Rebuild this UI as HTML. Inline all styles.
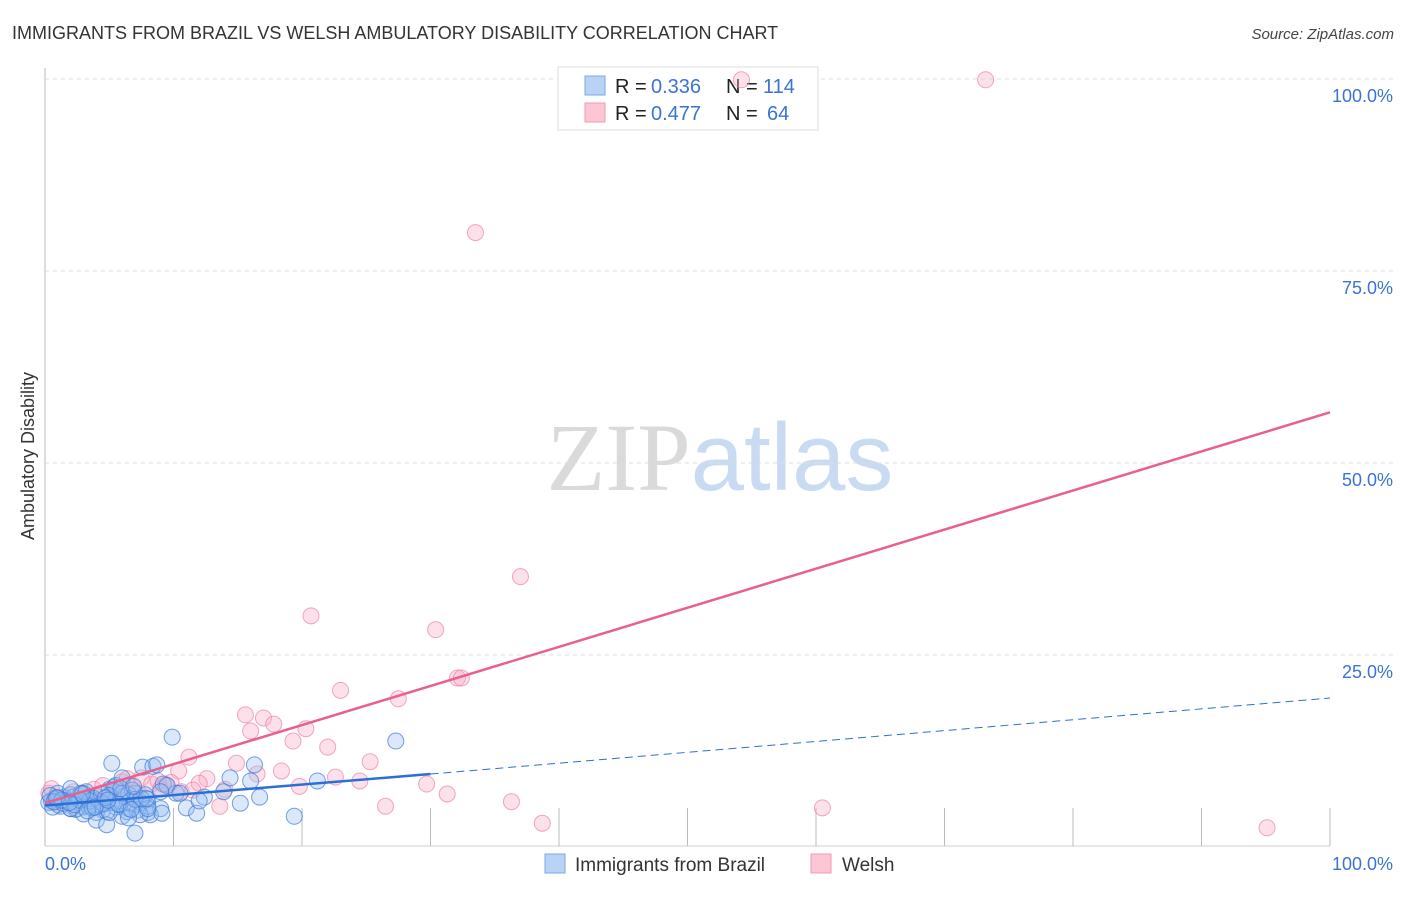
<!DOCTYPE html>
<html><head><meta charset="utf-8">
<style>
body{margin:0;background:#fff;font-family:"Liberation Sans",sans-serif;}
svg text{font-family:"Liberation Sans",sans-serif;}
</style></head>
<body>
<svg id="chart" width="1406" height="892" xmlns="http://www.w3.org/2000/svg">
<text x="12" y="39" font-size="18" fill="#333">IMMIGRANTS FROM BRAZIL VS WELSH AMBULATORY DISABILITY CORRELATION CHART</text>
<text x="1394" y="39" font-size="15" fill="#444" text-anchor="end" font-style="italic">Source: ZipAtlas.com</text>
<text x="720" y="490" font-size="96" text-anchor="middle"><tspan fill="#dadada" font-family="Liberation Serif">ZIP</tspan><tspan fill="#c9dbf2">atlas</tspan></text>
<text transform="translate(34,456) rotate(-90)" font-size="18" fill="#333" text-anchor="middle">Ambulatory Disability</text>
<g id="grid"></g>
<g>
<rect x="558" y="67" width="260" height="63" fill="#fff" stroke="#ddd"/>
<rect x="585" y="76" width="20" height="19" fill="#b9d2f5" stroke="#7aa7e6"/>
<rect x="585" y="103" width="20" height="19" fill="#fcc6d5" stroke="#f09ab3"/>
<text x="615" y="93" font-size="20" fill="#222">R =</text>
<text x="651" y="93" font-size="20" fill="#3b73d3">0.336</text>
<text x="726" y="93" font-size="20" fill="#222">N =</text>
<text x="763" y="93" font-size="20" fill="#3b73d3">114</text>
<text x="615" y="120" font-size="20" fill="#222">R =</text>
<text x="651" y="120" font-size="20" fill="#3b73d3">0.477</text>
<text x="726" y="120" font-size="20" fill="#222">N =</text>
<text x="767" y="120" font-size="20" fill="#3b73d3">64</text>
</g>
<g id="pts"></g>
<g id="lines"></g>
<g>
<rect x="545" y="854" width="20" height="19" fill="#b9d2f5" stroke="#7aa7e6"/>
<text x="575" y="871" font-size="19" fill="#333">Immigrants from Brazil</text>
<rect x="811" y="854" width="20" height="19" fill="#fcc6d5" stroke="#f09ab3"/>
<text x="842" y="871" font-size="19" fill="#333">Welsh</text>
</g>
</svg>
<script>
const yTicks=[25,50,75,100];
const yTickLabels=["25.0%","50.0%","75.0%","100.0%"];
const xTicks=[10,20,30,40,50,60,70,80,90,100];
const blueX=[0.5,1,1.5,2,2.5,3,3.5,4,4.5,5,5.5,6,6.5,7,7.5,8,1,2,3,4,5,6,7,8,9,1.5,2.5,3.5,4.5,5.5,6.5,0.3,0.8,1.2,2.2,3.2,4.2,5.2,6.2,7.2,8.2,9.2,0.6,1.8,2.8,3.8,4.8,5.8,6.8,7.8,0.4,1.4,2.4,3.4,4.4,5.4,6.4,3,4,5,6,7,8,2,1,0.7,9.9,27.3,5.2,7.6,8.4,8.7,16.3,21.2,16,14.4,19.4,15.2,16.7,12.4,11,11.8,9.1,7,4.8,7.4,13.9,10.2,9.5,8,6.5,5,3.5,2,4.5,6,7.5,9,10.5,12,2.7,3.7,4.7,5.7,6.7,1.3,2.3,3.3,0.9,1.9,2.9,3.9,4.9,5.9,6.9,7.9];
const blueY=[6,5.5,6.5,5,6,7,5.5,6,4.8,6.5,5.2,6,5,7,5.8,4.5,7,6.8,5.2,4.5,7.5,4,5.5,6.2,5,6,5,6.3,5.8,8,6.8,5.8,6.2,5.3,6.5,7.2,5.5,5.8,6.6,4.8,4.2,8.2,5.2,6,7,6.3,4.6,5.5,7.4,6.8,6.7,5.7,4.9,5.3,6.9,7.8,4.6,4.3,3.5,6.7,9,6.2,5.3,7.6,6.4,5.9,14.3,13.8,10.9,10.4,10.5,10.7,10.7,8.6,8.6,9,4,5.7,6.5,6.5,5.1,4.4,4.4,1.8,2.9,4.2,7.2,7,8,5,3.8,4.5,6,5,5.6,7,6.3,7.2,7,6,6.1,5.1,6.4,5.6,4.9,6.1,5.5,4.7,6.4,5.8,6.9,5.2,6.1,7.6,7.9,6.3];
const pinkX=[54.2,73.2,33.5,37,20.7,30.4,23,27.5,32.1,32.4,15.6,17,17.8,16,20.3,19.3,22,11.2,14.9,25.3,18.4,10.4,22.6,19.8,12.6,24.5,29.7,31.3,26.5,36.3,38.7,60.5,95.1,13.6,0.3,0.8,1.5,2.2,3,3.8,4.5,5.3,6,6.8,7.5,8.3,9,9.8,1.2,2.6,4,5.6,7.2,8.8,10.6,12,14,16.5,0.5,2,3.4,6.4,11.5,9.4];
const pinkY=[99.9,99.9,80,35.2,30.1,28.3,20.4,19.3,22,22,17.2,16.8,16,15.1,15.4,13.8,13,11.7,10.9,11.1,9.9,9.9,9.1,7.9,8.9,8.6,8.2,6.9,5.3,5.9,3.1,5.1,2.5,5.3,7,6.5,6,7.2,6.8,7.5,8,7,8.5,7.8,9,8.2,7.6,8.4,5.8,6.2,6.6,7.3,6.9,8.6,7.2,8.3,7.5,9.5,7.6,5.6,6.1,8.9,7.4,8.1];
const blueFit=[5.4,9.5,19.4];
const pinkFit=[5.7,56.6];
const X=v=>45+v*12.85, Y=v=>847-v*7.68;
const NS="http://www.w3.org/2000/svg";
function mk(tag,attrs,parent){const e=document.createElementNS(NS,tag);for(const k in attrs)e.setAttribute(k,attrs[k]);parent.appendChild(e);return e;}
const grid=document.getElementById('grid');
let ax=mk('line',{x1:45,y1:68,x2:45,y2:846,stroke:'#bbb'},grid);


let bx=mk('line',{x1:45,y1:846,x2:1330,y2:846,stroke:'#ccc'},grid);


yTicks.forEach((t,i)=>{
 const g=mk('line',{x1:45,y1:Y(t),x2:1394,y2:Y(t),stroke:'#ddd','stroke-dasharray':'4,4'},grid);
 
 
 const l=mk('text',{x:1393,y:Y(t)+23,'font-size':18,fill:'#3b73d3','text-anchor':'end'},grid);
 l.textContent=yTickLabels[i];
 
 
});
xTicks.forEach(t=>{
 const g=mk('line',{x1:X(t),y1:808,x2:X(t),y2:846,stroke:'#bbb'},grid);
 
 
});
let x0=mk('text',{x:45,y:870,'font-size':18,fill:'#3b73d3'},grid);x0.textContent='0.0%';


let x1=mk('text',{x:1393,y:870,'font-size':18,fill:'#3b73d3','text-anchor':'end'},grid);x1.textContent='100.0%';


const pts=document.getElementById('pts');
pinkX.forEach((x,i)=>{
 if(pinkY[i]===undefined)return;
 const c=mk('circle',{cx:X(x),cy:Y(pinkY[i]),r:8,fill:'rgba(248,170,195,0.35)',stroke:'rgba(236,130,165,0.7)','stroke-width':1},pts);
 
 
});
blueX.forEach((x,i)=>{
 if(blueY[i]===undefined)return;
 const c=mk('circle',{cx:X(x),cy:Y(blueY[i]),r:8,fill:'rgba(150,190,240,0.35)',stroke:'rgba(60,120,215,0.7)','stroke-width':1},pts);
 
 
});
const lines=document.getElementById('lines');
let pl=mk('line',{x1:X(0),y1:Y(pinkFit[0]),x2:X(100),y2:Y(pinkFit[1]),stroke:'#e8608e','stroke-width':2.5},lines);


let bl=mk('line',{x1:X(0),y1:Y(blueFit[0]),x2:X(30),y2:Y(blueFit[1]),stroke:'#2a6fd6','stroke-width':2.5},lines);


let bd=mk('line',{x1:X(30),y1:Y(blueFit[1]),x2:X(100),y2:Y(blueFit[2]),stroke:'#2a6fd6','stroke-width':1,'stroke-dasharray':'8,5'},lines);


</script>
</body></html>
